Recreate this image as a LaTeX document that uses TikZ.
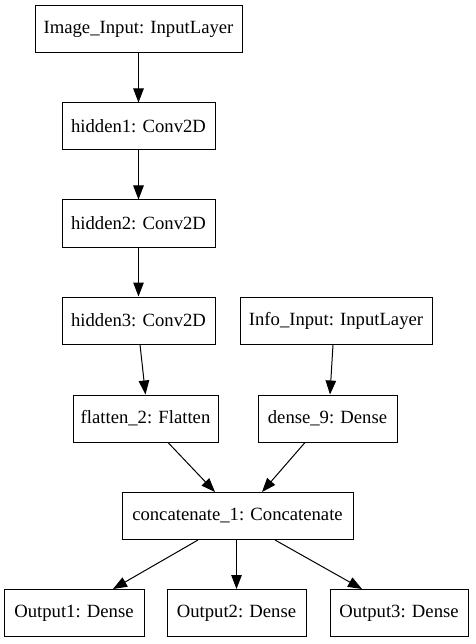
\documentclass[tikz,border=0pt]{standalone}
\usepackage{fontspec}
\setmainfont{Liberation Serif}
\usetikzlibrary{arrows.meta}
\begin{document}
\begin{tikzpicture}[x=1pt,y=-1pt,
  layer/.style={draw=black,line width=1pt,inner sep=0pt,minimum height=47pt,
    font=\fontsize{18.67}{22}\selectfont},
  arr/.style={draw=black,line width=1pt,-{Triangle[length=14pt,width=10.5pt]}}]
\useasboundingbox[fill=white] (0,0) rectangle (475,644);
\node[layer,minimum width=207pt] (img) at (138.5,29.5) {Image\_Input: InputLayer};
\node[layer,minimum width=153pt] (h1) at (138.5,126.5) {hidden1: Conv2D};
\node[layer,minimum width=153pt] (h2) at (138.5,223.5) {hidden2: Conv2D};
\node[layer,minimum width=153pt] (h3) at (138.5,320.5) {hidden3: Conv2D};
\node[layer,minimum width=192pt] (info) at (336,320.5) {Info\_Input: InputLayer};
\node[layer,minimum width=145pt] (flat) at (145.5,418.5) {flatten\_2: Flatten};
\node[layer,minimum width=139pt] (dense) at (327.5,418.5) {dense\_9: Dense};
\node[layer,minimum width=231pt] (cat) at (237.5,516) {concatenate\_1: Concatenate};
\node[layer,minimum width=140pt] (o1) at (74,613) {Output1: Dense};
\node[layer,minimum width=139pt] (o2) at (236.5,613) {Output2: Dense};
\node[layer,minimum width=138pt] (o3) at (399,613) {Output3: Dense};
\draw[arr] (img.south) -- (h1.north);
\draw[arr] (h1.south) -- (h2.north);
\draw[arr] (h2.south) -- (h3.north);
\draw[arr] ([xshift=1.5pt]h3.south) -- (flat.north);
\draw[arr] ([xshift=-3pt]info.south) -- ([xshift=2.5pt]dense.north);
\draw[arr] ([xshift=22.5pt]flat.south) -- ([xshift=-22.5pt]cat.north);
\draw[arr] ([xshift=-22.5pt]dense.south) -- ([xshift=24.5pt]cat.north);
\draw[arr] ([xshift=-39.5pt]cat.south) -- ([xshift=39pt]o1.north);
\draw[arr] ([xshift=-1pt]cat.south) -- (o2.north);
\draw[arr] ([xshift=37.5pt]cat.south) -- ([xshift=-37pt]o3.north);
\end{tikzpicture}
\end{document}
